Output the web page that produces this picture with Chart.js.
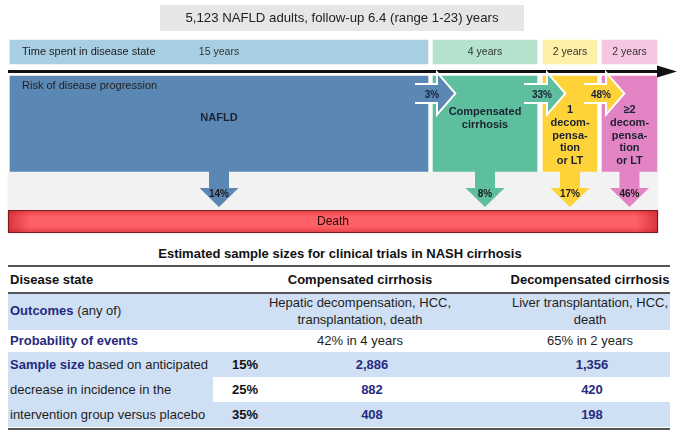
<!DOCTYPE html>
<html><head><meta charset="utf-8">
<script src="https://cdn.jsdelivr.net/npm/chart.js@4.4.0/dist/chart.umd.min.js"></script>
<style>
html,body{margin:0;padding:0;background:#fff;width:680px;height:436px;overflow:hidden;font-family:"Liberation Sans",Arial,sans-serif;}
#wrap{position:relative;width:680px;height:436px;}
#c{position:absolute;left:0;top:0;}
.t{position:absolute;white-space:nowrap;}
.r{position:absolute;}
</style></head><body><div id="wrap"><canvas id="c" width="680" height="240"></canvas><div id="overlay"></div></div>
<script>
// ---------------- DATA ----------------
const headline = "5,123 NAFLD adults, follow-up 6.4 (range 1-23) years";
const rowTitles = ["Time spent in disease state", "Risk of disease progression"];
const states = ["NAFLD", "Compensated cirrhosis", "1 decompensation or LT", "≥2 decompensation or LT"];
const stateLines = [["NAFLD"], ["Compensated", "cirrhosis"], ["1", "decom-", "pensa-", "tion", "or LT"], ["≥2", "decom-", "pensa-", "tion", "or LT"]];
const yearsInState = [15, 4, 2, 2];
const progressionRisk = [3, 33, 48];      // % moving on to the next state
const deathRisk = [14, 8, 17, 46];        // % dying from each state
const deathLabel = "Death";

const tableTitle = "Estimated sample sizes for clinical trials in NASH cirrhosis";
const tableHeader = ["Disease state", "Compensated cirrhosis", "Decompensated cirrhosis"];
const outcomesLabel = ["Outcomes", " (any of)"];
const outcomes = [["Hepatic decompensation, HCC,", "transplantation, death"], ["Liver transplantation, HCC,", "death"]];
const probabilityLabel = "Probability of events";
const eventProbability = ["42% in 4 years", "65% in 2 years"];
const sampleLabel = [["Sample size", " based on anticipated"], ["", "decrease in incidence in the"], ["", "intervention group versus placebo"]];
const decreaseLevels = [15, 25, 35];
const sampleCompensated = [2886, 882, 408];
const sampleDecompensated = [1356, 420, 198];

// ---------------- LAYOUT / STYLE ----------------
const L = {
  spans: [[10, 428], [433, 537], [543, 597], [602, 657]],
  timeRow: { y: 52, h: 24 },
  stateRow: { y: 124, h: 96, bottom: 172 },
  band: { x: [8, 658], y: 190.5, h: 37 },
  death: { x: [8, 658], y: 221.5, h: 23 },
  axis: { y: 71.5, x0: 8, x1: 657, tip: 677, head: 6 },
  trans: { y: 93.5, body: 8.5, head: 18.5, back: 13, base: 5, tip: 21 },
  down: { top: 170, headTop: 188, tip: 207, body: 10, head: 19.5, label: 194 },
  nameY: [118, 112, 110, 110], lineStep: 12.8
};
const C = {
  light: ['#a7cee3', '#b3e2cd', '#fef0a6', '#f6c6e3'],
  state: ['#5b87b4', '#5dbf9e', '#fed33a', '#e283c3'],
  band: '#f2f2f2', navy: '#262a80', text: '#1e1e1e'
};
const FONT = '"Liberation Sans", Arial, sans-serif';

// ---------------- CHART ----------------
const center = s => (s[0] + s[1]) / 2;

const diagram = {
  id: 'diagram',
  afterDatasetsDraw(chart) {
    const ctx = chart.ctx, X = v => chart.scales.x.getPixelForValue(v), Y = v => chart.scales.y.getPixelForValue(v);
    ctx.save();
    // death bar inner edge glow
    const dy0 = Y(L.death.y - L.death.h / 2), dy1 = Y(L.death.y + L.death.h / 2);
    const xl = X(L.death.x[0]), xr = X(L.death.x[1]);
    let g = ctx.createLinearGradient(xl, 0, xl + 22, 0);
    g.addColorStop(0, 'rgba(190,20,30,0.55)'); g.addColorStop(1, 'rgba(190,20,30,0)');
    ctx.fillStyle = g; ctx.fillRect(xl + 1, dy0 + 1, 22, dy1 - dy0 - 2);
    g = ctx.createLinearGradient(xr - 22, 0, xr, 0);
    g.addColorStop(0, 'rgba(190,20,30,0)'); g.addColorStop(1, 'rgba(190,20,30,0.55)');
    ctx.fillStyle = g; ctx.fillRect(xr - 23, dy0 + 1, 22, dy1 - dy0 - 2);

    // time axis arrow
    ctx.strokeStyle = '#111'; ctx.fillStyle = '#111'; ctx.lineWidth = 3;
    ctx.beginPath(); ctx.moveTo(X(L.axis.x0), Y(L.axis.y)); ctx.lineTo(X(L.axis.x1) + 2, Y(L.axis.y)); ctx.stroke();
    ctx.beginPath(); ctx.moveTo(X(L.axis.x1), Y(L.axis.y - L.axis.head)); ctx.lineTo(X(L.axis.tip), Y(L.axis.y));
    ctx.lineTo(X(L.axis.x1), Y(L.axis.y + L.axis.head)); ctx.closePath(); ctx.fill();

    // transition arrows
    progressionRisk.forEach((p, i) => {
      const from = L.spans[i][1], to = L.spans[i + 1][0], T = L.trans;
      const x0 = X(from - T.back), xb = X(to + T.base), xt = X(to + T.tip);
      const yc = Y(T.y), bt = Y(T.y - T.body), bb = Y(T.y + T.body), ht = Y(T.y - T.head), hb = Y(T.y + T.head);
      const path = () => { ctx.beginPath(); ctx.moveTo(x0, bt); ctx.lineTo(xb, bt); ctx.lineTo(xb, ht); ctx.lineTo(xt, yc); ctx.lineTo(xb, hb); ctx.lineTo(xb, bb); ctx.lineTo(x0, bb); };
      ctx.strokeStyle = '#fff'; ctx.lineWidth = 4; ctx.lineJoin = 'miter'; path(); ctx.stroke();
      ctx.fillStyle = C.state[i]; path(); ctx.closePath(); ctx.fill();
      ctx.fillStyle = '#1a1f3a'; ctx.font = 'bold 10px ' + FONT; ctx.textAlign = 'center'; ctx.textBaseline = 'middle';
      ctx.fillText(p + '%', X(to - 1), Y(T.y + 1.5));
    });

    // arrows down to death
    deathRisk.forEach((d, i) => {
      const D = L.down, cx = X(center(L.spans[i]));
      const path = () => {
        ctx.beginPath();
        ctx.moveTo(cx - D.body, Y(D.top)); ctx.lineTo(cx + D.body, Y(D.top)); ctx.lineTo(cx + D.body, Y(D.headTop));
        ctx.lineTo(cx + D.head, Y(D.headTop)); ctx.lineTo(cx, Y(D.tip)); ctx.lineTo(cx - D.head, Y(D.headTop));
        ctx.lineTo(cx - D.body, Y(D.headTop)); ctx.closePath();
      };
      ctx.fillStyle = C.state[i]; path(); ctx.fill();
      ctx.fillStyle = '#1a1a1a'; ctx.font = 'bold 10px ' + FONT; ctx.textAlign = 'center'; ctx.textBaseline = 'middle';
      ctx.fillText(d + '%', cx, Y(D.label));
    });

    // row titles and year labels
    ctx.fillStyle = '#222'; ctx.font = '11px ' + FONT; ctx.textAlign = 'left'; ctx.textBaseline = 'middle';
    ctx.fillText(rowTitles[0], X(22), Y(L.timeRow.y));
    ctx.fillText(rowTitles[1], X(22), Y(86));
    ctx.textAlign = 'center'; ctx.font = '10.5px ' + FONT; ctx.fillStyle = '#333';
    yearsInState.forEach((v, i) => ctx.fillText(v + ' years', X(center(L.spans[i])), Y(L.timeRow.y)));

    // state names
    ctx.font = 'bold 11px ' + FONT; ctx.fillStyle = '#1c2230';
    stateLines.forEach((lines, i) => lines.forEach((ln, j) => ctx.fillText(ln, X(center(L.spans[i])), Y(L.nameY[i] + j * L.lineStep))));

    // death label
    ctx.font = '12px ' + FONT; ctx.fillStyle = '#2a0808';
    ctx.fillText(deathLabel, X(center(L.death.x)), Y(L.death.y + 0.5));
    ctx.restore();
  }
};

new Chart(document.getElementById('c'), {
  type: 'bar',
  data: {
    datasets: [
      { label: 'band', data: [{ x: L.band.x, y: L.band.y }], backgroundColor: C.band, barThickness: L.band.h, grouped: false },
      { label: rowTitles[0], data: yearsInState.map((v, i) => ({ x: L.spans[i], y: L.timeRow.y })), backgroundColor: C.light, barThickness: L.timeRow.h, grouped: false },
      { label: rowTitles[1], data: states.map((s, i) => ({ x: L.spans[i], y: L.stateRow.y })), backgroundColor: C.state, barThickness: L.stateRow.h, grouped: false },
      { label: deathLabel, data: [{ x: L.death.x, y: L.death.y }], barThickness: L.death.h, grouped: false,
        borderColor: '#7d1b1e', borderWidth: 1.5, borderSkipped: false,
        backgroundColor: (c) => {
          const ch = c.chart; if (!ch.chartArea) return '#f95b60';
          const y = ch.scales.y;
          const gr = ch.ctx.createLinearGradient(0, y.getPixelForValue(L.death.y - L.death.h / 2), 0, y.getPixelForValue(L.death.y + L.death.h / 2));
          gr.addColorStop(0, '#ee3f45'); gr.addColorStop(0.3, '#fb6166'); gr.addColorStop(0.7, '#fb6166'); gr.addColorStop(1, '#ee3f45');
          return gr;
        } }
    ]
  },
  options: {
    indexAxis: 'y', responsive: false, animation: false, events: [],
    layout: { padding: 0 },
    scales: {
      x: { type: 'linear', min: 0, max: 680, display: false, offset: false },
      y: { type: 'linear', min: 0, max: 240, reverse: true, display: false, offset: false }
    },
    plugins: { legend: { display: false }, tooltip: { enabled: false } }
  },
  plugins: [diagram]
});

// ---------------- HTML PARTS (headline + table) ----------------
const ov = document.getElementById('overlay');
function rect(x, y, w, h, color) { const d = document.createElement('div'); d.className = 'r'; Object.assign(d.style, { left: x + 'px', top: y + 'px', width: w + 'px', height: h + 'px', background: color }); ov.appendChild(d); return d; }
function text(html, x, y, o = {}) {
  const d = document.createElement('div'); d.className = 't'; const lh = o.lh || 16;
  Object.assign(d.style, { top: (y - lh / 2) + 'px', lineHeight: lh + 'px', fontSize: (o.size || 13) + 'px', fontWeight: o.bold ? 'bold' : 'normal', color: o.color || C.text });
  if (o.align === 'center') { d.style.left = (x - 250) + 'px'; d.style.width = '500px'; d.style.textAlign = 'center'; } else d.style.left = x + 'px';
  d.innerHTML = html; ov.appendChild(d); return d;
}
const nv = s => `<b style="color:${C.navy}">${s}</b>`;
const fmt = n => n.toLocaleString('en-US');

rect(160, 5, 364, 26, '#e6e6e6');
text(headline, 342, 18, { size: 13.2, align: 'center', color: '#222' });

const T = { left: 8, width: 662, c1: 10, c2: 232, c3: 360, c4: 590, n3: 372, n4: 592, col1w: 205 };
const blue = '#cfe0f4';
text(tableTitle, 340, 254, { size: 13, bold: true, align: 'center', color: '#111' });
rect(T.left, 265, T.width, 2, '#555');
text(tableHeader[0], T.c1, 280, { size: 13, bold: true, color: '#111' });
text(tableHeader[1], T.c3, 280, { size: 13, bold: true, align: 'center', color: '#111' });
text(tableHeader[2], T.c4, 280, { size: 13, bold: true, align: 'center', color: '#111' });
rect(T.left, 292, T.width, 2, '#555');
rect(T.left, 294, T.width, 36, blue);
text(nv(outcomesLabel[0]) + outcomesLabel[1], T.c1, 311);
outcomes[0].forEach((s, j) => text(s, T.c3, 303 + j * 17, { align: 'center' }));
outcomes[1].forEach((s, j) => text(s, T.c4, 303 + j * 17, { align: 'center' }));
text(nv(probabilityLabel), T.c1, 341);
text(eventProbability[0], T.c3, 341, { align: 'center' });
text(eventProbability[1], T.c4, 341, { align: 'center' });
const rowTops = [352, 377, 402];
decreaseLevels.forEach((lvl, i) => {
  if (i % 2 === 0) rect(T.left, rowTops[i], T.width, 25, blue); else rect(T.left, rowTops[i], T.col1w, 25, blue);
  const yc = rowTops[i] + 12.5;
  text((sampleLabel[i][0] ? nv(sampleLabel[i][0]) : '') + sampleLabel[i][1], T.c1, yc);
  text(lvl + '%', T.c2, yc, { bold: true, color: '#111' });
  text(nv(fmt(sampleCompensated[i])), T.n3, yc, { align: 'center' });
  text(nv(fmt(sampleDecompensated[i])), T.n4, yc, { align: 'center' });
});
rect(T.left, 428, T.width, 2, '#555');
</script></body></html>
